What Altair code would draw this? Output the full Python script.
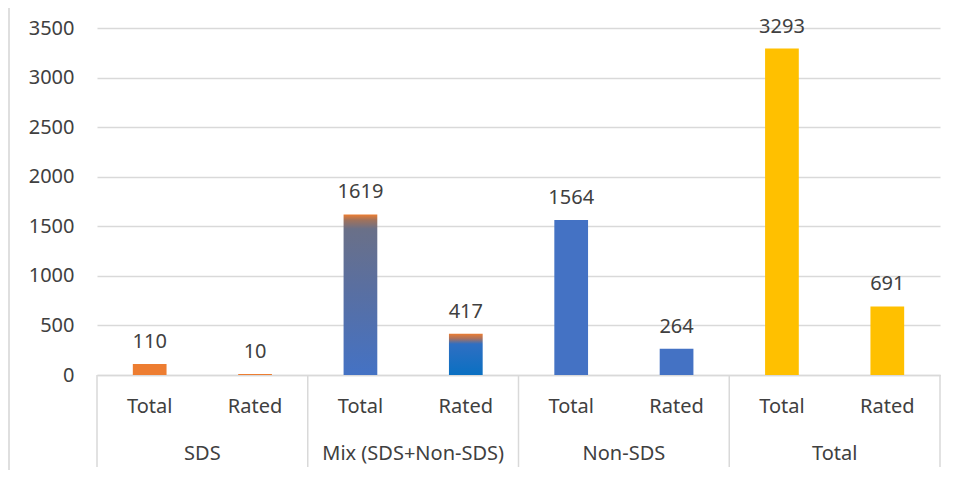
import altair as alt
import pandas as pd

groups = ["SDS", "SDS", "Mix (SDS+Non-SDS)", "Mix (SDS+Non-SDS)", "Non-SDS", "Non-SDS", "Total", "Total"]
subs = ["Total", "Rated", "Total", "Rated", "Total", "Rated", "Total", "Rated"]
values = [110, 10, 1619, 417, 1564, 264, 3293, 691]
kinds = ["sds", "sds", "mixT", "mixR", "non", "non", "tot", "tot"]
group_names = ["SDS", "Mix (SDS+Non-SDS)", "Non-SDS", "Total"]
y_ticks = [0, 500, 1000, 1500, 2000, 2500, 3000, 3500]

keys = [g + "|" + s for g, s in zip(groups, subs)]
df = pd.DataFrame({"key": keys, "group": groups, "sub": subs, "value": values, "kind": kinds})
first_keys = [k for i, k in enumerate(keys) if i % 2 == 0]
gdf = pd.DataFrame({"key": first_keys, "group": group_names})
ldf = pd.DataFrame({"key": [keys[-1]]})

FONT = "Noto Sans"
FS = 20
TXT = "#404040"
H = 347
W = 843

xenc = alt.X("key:N", sort=keys,
             scale=alt.Scale(paddingInner=0, paddingOuter=0),
             axis=alt.Axis(title=None, labelExpr="split(datum.label, '|')[1]",
                           labelAngle=0, ticks=False, domain=True, domainColor="#D9D9D9",
                           domainWidth=1.5, grid=False, labelPadding=21,
                           labelFontSize=FS, labelFont=FONT, labelColor=TXT))
yenc = alt.Y("value:Q", scale=alt.Scale(domain=[0, 3500], nice=False),
             axis=alt.Axis(title=None, values=y_ticks, format="d", ticks=False, domain=False,
                           gridColor="#D9D9D9", gridWidth=1.5, labelPadding=23,
                           labelFontSize=FS, labelFont=FONT, labelColor=TXT))

base = alt.Chart(df)

solid = base.transform_filter(
    "datum.kind != 'mixT' && datum.kind != 'mixR'"
).mark_bar(width=alt.RelativeBandSize(0.32)).encode(
    x=xenc, y=yenc,
    color=alt.Color("kind:N", legend=None,
                    scale=alt.Scale(domain=["sds", "non", "tot"],
                                    range=["#ED7D31", "#4472C4", "#FFC000"]))
)

grad_total = {
    "gradient": "linear", "x1": 0, "x2": 0, "y1": 0, "y2": 1,
    "stops": [
        {"offset": 0, "color": "#ED7D31"},
        {"offset": 0.035, "color": "#A0725C"},
        {"offset": 0.09, "color": "#6A7088"},
        {"offset": 0.45, "color": "#5A6FA0"},
        {"offset": 1, "color": "#4472C4"},
    ],
}
grad_rated = {
    "gradient": "linear", "x1": 0, "x2": 0, "y1": 0, "y2": 1,
    "stops": [
        {"offset": 0, "color": "#ED7D31"},
        {"offset": 0.12, "color": "#A9715F"},
        {"offset": 0.25, "color": "#2F6FC2"},
        {"offset": 1, "color": "#0A70C2"},
    ],
}

mixT = base.transform_filter("datum.kind == 'mixT'").mark_bar(
    width=alt.RelativeBandSize(0.32), color=grad_total).encode(x=xenc, y=yenc)
mixR = base.transform_filter("datum.kind == 'mixR'").mark_bar(
    width=alt.RelativeBandSize(0.32), color=grad_rated).encode(x=xenc, y=yenc)

labels = base.mark_text(baseline="bottom", dy=-12, fontSize=FS, font=FONT,
                        color=TXT).encode(
    x=alt.X("key:N", sort=keys), y=alt.Y("value:Q"), text=alt.Text("value:Q"))

seps = alt.Chart(gdf).mark_rule(color="#D9D9D9", strokeWidth=1.5).encode(
    x=alt.X("key:N", sort=keys, bandPosition=0),
    y=alt.value(H), y2=alt.value(H + 92))
sep_last = alt.Chart(ldf).mark_rule(color="#D9D9D9", strokeWidth=1.5).encode(
    x=alt.X("key:N", sort=keys, bandPosition=1),
    y=alt.value(H), y2=alt.value(H + 92))

frame = alt.Chart(ldf).mark_rule(color="#BFBFBF", strokeWidth=1).encode(
    x=alt.value(-88), y=alt.value(-20), y2=alt.value(H + 95))

glabels = alt.Chart(gdf).mark_text(fontSize=FS, font=FONT, color=TXT,
                                   baseline="middle").encode(
    x=alt.X("key:N", sort=keys, bandPosition=1),
    y=alt.value(H + 79), text="group:N")

chart = alt.layer(solid, mixT, mixR, labels, seps, sep_last, glabels, frame).properties(
    width=W, height=H,
    padding={"left": 89, "top": 20, "right": 8, "bottom": 95},
    autosize=alt.AutoSizeParams(type="none"),
    background="white",
).configure_view(stroke=None)

chart.save("out.html", embed_options={"renderer": "svg", "actions": False})
